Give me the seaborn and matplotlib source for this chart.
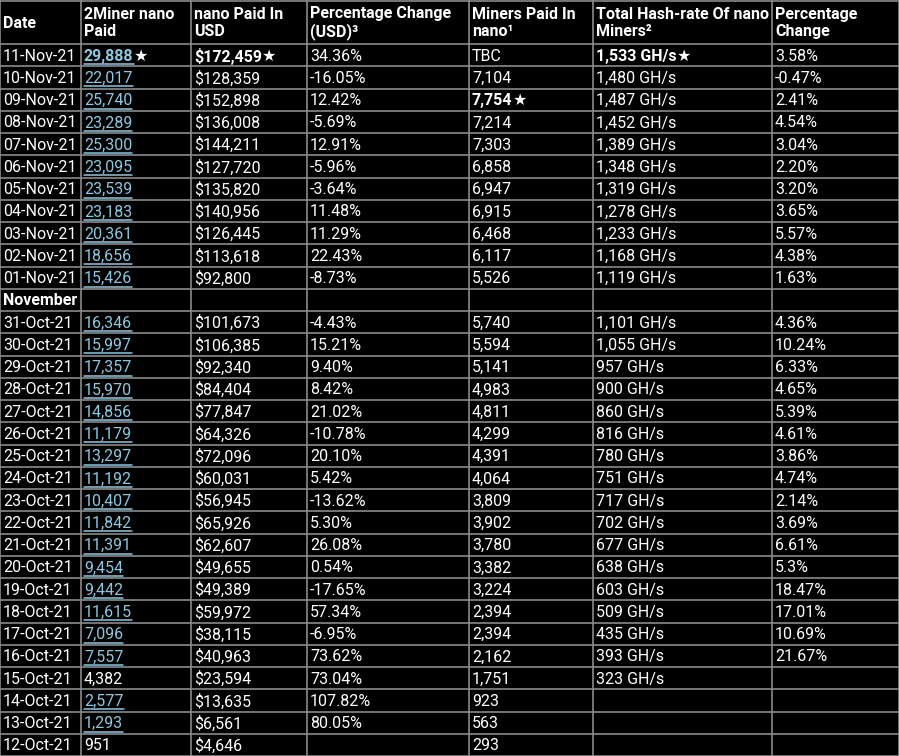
import matplotlib
matplotlib.use("Agg")
import matplotlib.pyplot as plt
import seaborn as sns
import pandas as pd

sns.set_style("dark")
plt.rcParams['font.family'] = ['Roboto', 'DejaVu Sans']

# data
dates = ["11-Nov-21", "10-Nov-21", "09-Nov-21", "08-Nov-21", "07-Nov-21", "06-Nov-21",
         "05-Nov-21", "04-Nov-21", "03-Nov-21", "02-Nov-21", "01-Nov-21", "November",
         "31-Oct-21", "30-Oct-21", "29-Oct-21", "28-Oct-21", "27-Oct-21", "26-Oct-21",
         "25-Oct-21", "24-Oct-21", "23-Oct-21", "22-Oct-21", "21-Oct-21", "20-Oct-21",
         "19-Oct-21", "18-Oct-21", "17-Oct-21", "16-Oct-21", "15-Oct-21", "14-Oct-21",
         "13-Oct-21", "12-Oct-21"]
paid = ["29,888★", "22,017", "25,740", "23,289", "25,300", "23,095", "23,539", "23,183",
        "20,361", "18,656", "15,426", "", "16,346", "15,997", "17,357", "15,970", "14,856",
        "11,179", "13,297", "11,192", "10,407", "11,842", "11,391", "9,454", "9,442",
        "11,615", "7,096", "7,557", "4,382", "2,577", "1,293", "951"]
usd = ["$172,459★", "$128,359", "$152,898", "$136,008", "$144,211", "$127,720", "$135,820",
       "$140,956", "$126,445", "$113,618", "$92,800", "", "$101,673", "$106,385", "$92,340",
       "$84,404", "$77,847", "$64,326", "$72,096", "$60,031", "$56,945", "$65,926",
       "$62,607", "$49,655", "$49,389", "$59,972", "$38,115", "$40,963", "$23,594",
       "$13,635", "$6,561", "$4,646"]
pct_usd = ["34.36%", "-16.05%", "12.42%", "-5.69%", "12.91%", "-5.96%", "-3.64%", "11.48%",
           "11.29%", "22.43%", "-8.73%", "", "-4.43%", "15.21%", "9.40%", "8.42%", "21.02%",
           "-10.78%", "20.10%", "5.42%", "-13.62%", "5.30%", "26.08%", "0.54%", "-17.65%",
           "57.34%", "-6.95%", "73.62%", "73.04%", "107.82%", "80.05%", ""]
miners = ["TBC", "7,104", "7,754★", "7,214", "7,303", "6,858", "6,947", "6,915", "6,468",
          "6,117", "5,526", "", "5,740", "5,594", "5,141", "4,983", "4,811", "4,299", "4,391",
          "4,064", "3,809", "3,902", "3,780", "3,382", "3,224", "2,394", "2,394", "2,162",
          "1,751", "923", "563", "293"]
hashrate = ["1,533 GH/s★", "1,480 GH/s", "1,487 GH/s", "1,452 GH/s", "1,389 GH/s",
            "1,348 GH/s", "1,319 GH/s", "1,278 GH/s", "1,233 GH/s", "1,168 GH/s", "1,119 GH/s",
            "", "1,101 GH/s", "1,055 GH/s", "957 GH/s", "900 GH/s", "860 GH/s", "816 GH/s",
            "780 GH/s", "751 GH/s", "717 GH/s", "702 GH/s", "677 GH/s", "638 GH/s", "603 GH/s",
            "509 GH/s", "435 GH/s", "393 GH/s", "323 GH/s", "", "", ""]
pct_hash = ["3.58%", "-0.47%", "2.41%", "4.54%", "3.04%", "2.20%", "3.20%", "3.65%", "5.57%",
            "4.38%", "1.63%", "", "4.36%", "10.24%", "6.33%", "4.65%", "5.39%", "4.61%",
            "3.86%", "4.74%", "2.14%", "3.69%", "6.61%", "5.3%", "18.47%", "17.01%", "10.69%",
            "21.67%", "", "", "", ""]
headers = ["Date", "2Miner nano\nPaid", "nano Paid In\nUSD", "Percentage Change\n(USD)³",
           "Miners Paid In\nnano¹", "Total Hash-rate Of nano\nMiners²", "Percentage\nChange"]

df = pd.DataFrame({"date": dates, "paid": paid, "usd": usd, "pct_usd": pct_usd,
                   "miners": miners, "hash": hashrate, "pct_hash": pct_hash})

col_x = [0, 81, 191, 307, 469, 593, 772, 899]
header_h = 44
row_h = 22.25
W, H = 899, 756

fig = plt.figure(figsize=(8.99, 7.56), dpi=100, facecolor="black")
ax = fig.add_axes([0, 0, 1, 1])
ax.set_facecolor("black")
ax.set_xlim(0, W)
ax.set_ylim(H, 0)
ax.axis("off")

grid = "#8a8a8a"
link = "#8cc8e0"
n = len(df)
bottom = header_h + n * row_h

# grid lines
for x in col_x:
    ax.plot([x, x], [0, bottom], color=grid, lw=1.2)
ax.plot([0, W], [0.5, 0.5], color=grid, lw=1.2)
for i in range(n + 1):
    y = header_h + i * row_h
    ax.plot([0, W], [y, y], color=grid, lw=1.2)

# header
for j, h in enumerate(headers):
    ax.text(col_x[j] + 3, header_h / 2 + 1, h, color="white", fontsize=11.5, fontweight="bold",
            va="center", ha="left", linespacing=1.1)

bold_cells = {(0, "paid"), (0, "usd"), (0, "hash"), (2, "miners")}
fig.canvas.draw()
renderer = fig.canvas.get_renderer()
inv = ax.transData.inverted()

for i, row in df.iterrows():
    yc = header_h + (i + 0.5) * row_h + 1
    for j, col in enumerate(df.columns):
        val = row[col]
        if not val:
            continue
        weight = "bold" if (i, col) in bold_cells or val == "November" else "normal"
        color = "white"
        is_link = col == "paid" and val not in ("4,382", "951")
        if is_link:
            color = link
        num = val.replace("★", "")
        t = ax.text(col_x[j] + 3, yc, num, color=color, fontsize=11.5, fontweight=weight,
                    va="center", ha="left")
        bb = t.get_window_extent(renderer)
        x1 = inv.transform((bb.x1, bb.y0))[0]
        if is_link:
            ax.plot([col_x[j] + 3, x1], [yc + 8, yc + 8], color=link, lw=1.1)
        if "★" in val:
            ax.text(x1, yc, "★", color="white", fontsize=11.5, va="center", ha="left",
                    family=["DejaVu Sans"])

fig.savefig("out.png", dpi=100, facecolor="black")
